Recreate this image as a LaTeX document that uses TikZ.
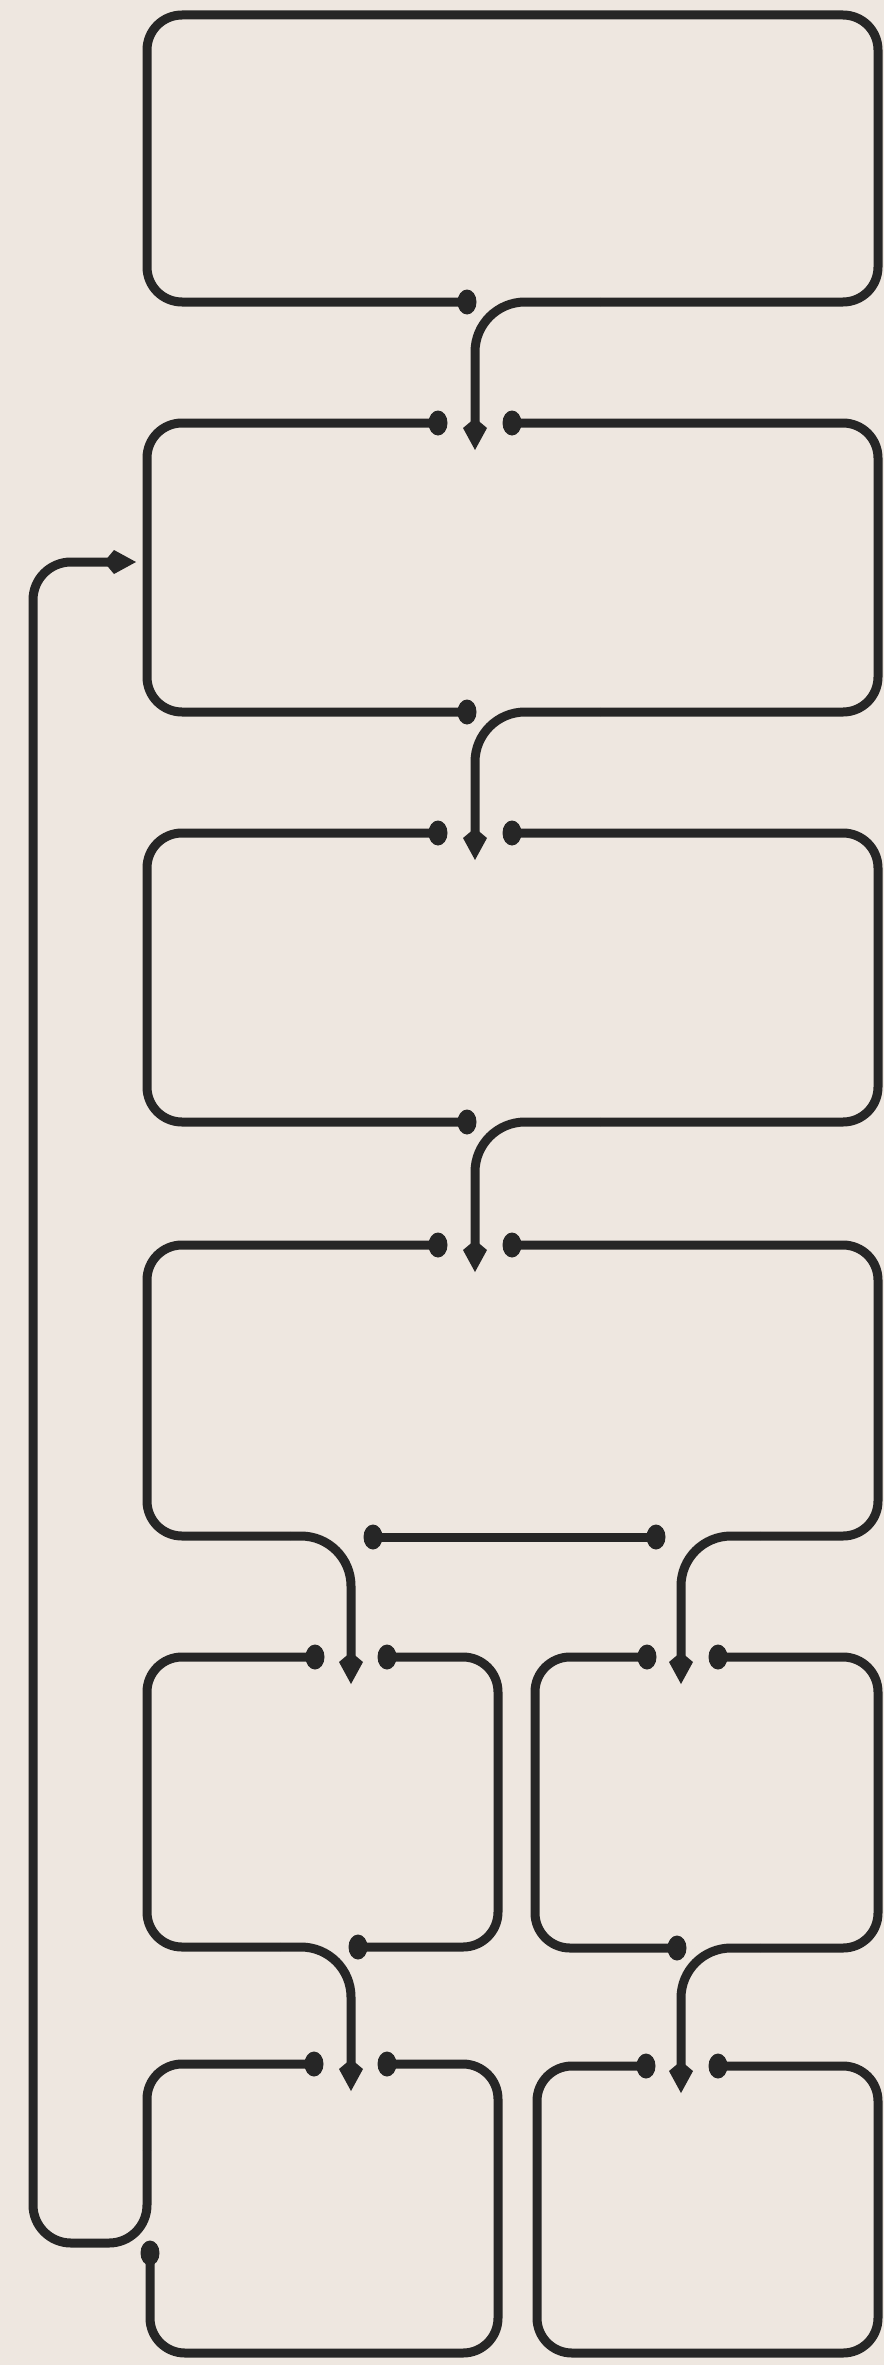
\documentclass[tikz,border=0pt]{standalone}
\usetikzlibrary{arrows.meta,shapes.geometric}
\definecolor{bgc}{RGB}{238,231,224}
\definecolor{ink}{RGB}{38,38,38}
\tikzset{
  boxline/.style={draw=ink,line width=9pt,rounded corners=35pt},
  cnx/.style={draw=ink,line width=9pt,rounded corners=50pt,-{Kite[length=32pt,width=24pt,inset=10pt]}},
  dotn/.style={ellipse,fill=ink,inner sep=0pt,minimum width=19pt,minimum height=25pt},
}
\begin{document}
\begin{tikzpicture}[x=1pt,y=-1pt]
\fill[bgc] (0,0) rectangle (884,2365);
\useasboundingbox (0,0) rectangle (884,2365);
% named coordinates for connectors
\coordinate (o1) at (600,302);  \coordinate (i2) at (475,450);
\coordinate (o2) at (600,712);  \coordinate (i3) at (475,860);
\coordinate (o3) at (600,1122); \coordinate (i4) at (475,1272);
\coordinate (o4a) at (290,1536); \coordinate (i5) at (351,1684);
\coordinate (o4b) at (760,1536); \coordinate (i6) at (681,1684);
\coordinate (o5) at (280,1947); \coordinate (i8) at (351,2091);
\coordinate (o6) at (760,1948); \coordinate (i7) at (681,2093);
\coordinate (o8) at (147,2150); \coordinate (i2l) at (136,562);
% box 1
\path[boxline] (467,302) -- (147,302) -- (147,15) -- (878,15) -- (878,302) -- (o1);
% box 2
\path[boxline] (438,423) -- (147,423) -- (147,712) -- (467,712);
\path[boxline] (512,423) -- (878,423) -- (878,712) -- (o2);
% box 3
\path[boxline] (438,833) -- (147,833) -- (147,1122) -- (467,1122);
\path[boxline] (512,833) -- (878,833) -- (878,1122) -- (o3);
% box 4
\path[boxline] (438,1245) -- (147,1245) -- (147,1536) -- (o4a);
\path[boxline] (512,1245) -- (878,1245) -- (878,1536) -- (o4b);
\path[boxline] (373,1537) -- (656,1537);
% box 5
\path[boxline] (315,1657) -- (147,1657) -- (147,1947) -- (o5);
\path[boxline] (387,1657) -- (498,1657) -- (498,1947) -- (358,1947);
% box 6
\path[boxline] (647,1657) -- (535,1657) -- (535,1948) -- (677,1948);
\path[boxline] (718,1657) -- (878,1657) -- (878,1948) -- (o6);
% box 7
\path[boxline] (646,2066) -- (537,2066) -- (537,2353) -- (878,2353) -- (878,2066) -- (718,2066);
% box 8
\path[boxline] (387,2064) -- (498,2064) -- (498,2353) -- (150,2353) -- (150,2253);
\path[boxline] (314,2064) -- (147,2064) -- (o8);
% connectors
\path[cnx] (o1) -| (i2);
\path[cnx] (o2) -| (i3);
\path[cnx] (o3) -| (i4);
\path[cnx] (o4a) -| (i5);
\path[cnx] (o4b) -| (i6);
\path[cnx] (o5) -| (i8);
\path[cnx] (o6) -| (i7);
\path[cnx,rounded corners=38pt] (o8) -- (147,2243) -- (33,2243) -- (33,562) -- (i2l);
% dots
\node[dotn] (d1b) at (467,302) {};
\node[dotn] (d2l) at (438,423) {};
\node[dotn] (d2r) at (512,423) {};
\node[dotn] (d2b) at (467,712) {};
\node[dotn] (d3l) at (438,833) {};
\node[dotn] (d3r) at (512,833) {};
\node[dotn] (d3b) at (467,1122) {};
\node[dotn] (d4l) at (438,1245) {};
\node[dotn] (d4r) at (512,1245) {};
\node[dotn] (m1) at (373,1537) {};
\node[dotn] (m2) at (656,1537) {};
\node[dotn] (d5l) at (315,1657) {};
\node[dotn] (d5r) at (387,1657) {};
\node[dotn] (d5b) at (358,1947) {};
\node[dotn] (d6l) at (647,1657) {};
\node[dotn] (d6r) at (718,1657) {};
\node[dotn] (d6b) at (677,1948) {};
\node[dotn] (d7l) at (646,2066) {};
\node[dotn] (d7r) at (718,2066) {};
\node[dotn] (d8l) at (314,2064) {};
\node[dotn] (d8r) at (387,2064) {};
\node[dotn] (d8s) at (150,2253) {};
\end{tikzpicture}
\end{document}
